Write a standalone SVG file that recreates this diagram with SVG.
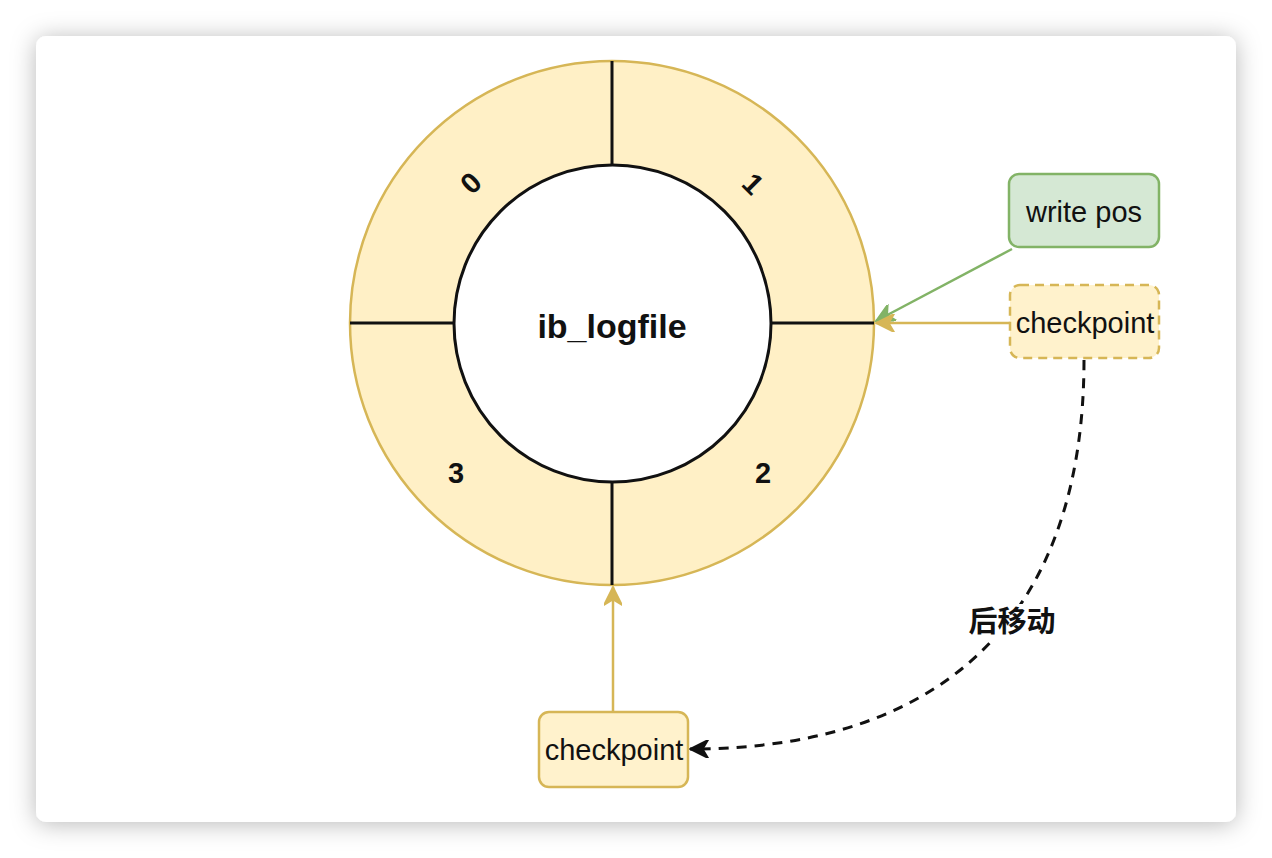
<svg xmlns="http://www.w3.org/2000/svg" width="1272" height="858" viewBox="0 0 1272 858">
<style>
text{font-family:"Liberation Sans",Arial,"Noto Sans CJK SC",sans-serif;font-size:29px;fill:#111;}
.b{font-weight:bold;}
.num{font-weight:bold;text-anchor:middle;}
.seg{stroke:#111;stroke-width:3;fill:none;}
.box{fill:#fff2cc;stroke:#d6b656;stroke-width:2.5;}
</style>
<defs>
<filter id="sh" x="-10%" y="-10%" width="120%" height="120%">
<feDropShadow dx="0" dy="2" stdDeviation="12" flood-color="#000" flood-opacity="0.28"/>
</filter>
<marker id="ag" viewBox="0 0 10 10" refX="10" refY="5" markerWidth="22" markerHeight="18" markerUnits="userSpaceOnUse" orient="auto"><path d="M0,0 L10,5 L0,10 L3,5 z" fill="#82b366" stroke="#82b366"/></marker>
<marker id="ay" viewBox="0 0 10 10" refX="10" refY="5" markerWidth="22" markerHeight="18" markerUnits="userSpaceOnUse" orient="auto"><path d="M0,0 L10,5 L0,10 L3,5 z" fill="#d6b656" stroke="#d6b656"/></marker>
<marker id="ak" viewBox="0 0 10 10" refX="10" refY="5" markerWidth="22" markerHeight="18" markerUnits="userSpaceOnUse" orient="auto"><path d="M0,0 L10,5 L0,10 L3,5 z" fill="#111" stroke="#111"/></marker>
</defs>
<rect width="1272" height="858" fill="#ffffff"/>
<rect x="36" y="36" width="1200" height="786" rx="10" fill="#ffffff" filter="url(#sh)"/>
<g id="ring">
<circle cx="612" cy="323" r="262" fill="#fff0c6" stroke="#d6b656" stroke-width="2.5"/>
<line class="seg" x1="612" y1="61" x2="612" y2="165"/>
<line class="seg" x1="350" y1="323" x2="454" y2="323"/>
<line class="seg" x1="771" y1="323" x2="874" y2="323"/>
<line class="seg" x1="612" y1="482" x2="612" y2="585"/>
<circle cx="612.5" cy="323.5" r="158.5" fill="#ffffff" stroke="#111" stroke-width="3"/>
<text class="b" x="612" y="338" text-anchor="middle" style="font-size:34px">ib_logfile</text>
</g>
<g id="seg0"><text class="num" transform="translate(471,183) rotate(-45)" y="10">0</text></g>
<g id="seg1"><text class="num" transform="translate(753,184) rotate(45)" y="10">1</text></g>
<g id="seg2"><text class="num" x="763" y="483">2</text></g>
<g id="seg3"><text class="num" x="456" y="483">3</text></g>
<g id="connectors">
<line x1="1012" y1="249" x2="876" y2="321" stroke="#82b366" stroke-width="2.5" marker-end="url(#ag)"/>
<line x1="1010" y1="323" x2="876" y2="323" stroke="#d6b656" stroke-width="2.5" marker-end="url(#ay)"/>
<line x1="613" y1="712" x2="613" y2="587" stroke="#d6b656" stroke-width="2.5" marker-end="url(#ay)"/>
<path d="M1084 360 C1084 600 960 749 690 749" fill="none" stroke="#111" stroke-width="3" stroke-dasharray="10 8" marker-end="url(#ak)"/>
<rect x="964" y="604" width="96" height="36" fill="#ffffff"/>
<text class="b" x="1012" y="632" text-anchor="middle">后移动</text>
</g>
<g id="writepos">
<rect x="1009" y="174" width="150" height="73" rx="10" fill="#d5e8d4" stroke="#82b366" stroke-width="2.5"/>
<text x="1084" y="222" text-anchor="middle">write pos</text>
</g>
<g id="checkpoint1">
<rect class="box" x="1010" y="285" width="149" height="73" rx="10" stroke-dasharray="9 6"/>
<text x="1085" y="333" text-anchor="middle">checkpoint</text>
</g>
<g id="checkpoint2">
<rect class="box" x="539" y="712" width="149" height="75" rx="10"/>
<text x="614" y="760" text-anchor="middle">checkpoint</text>
</g>
</svg>
